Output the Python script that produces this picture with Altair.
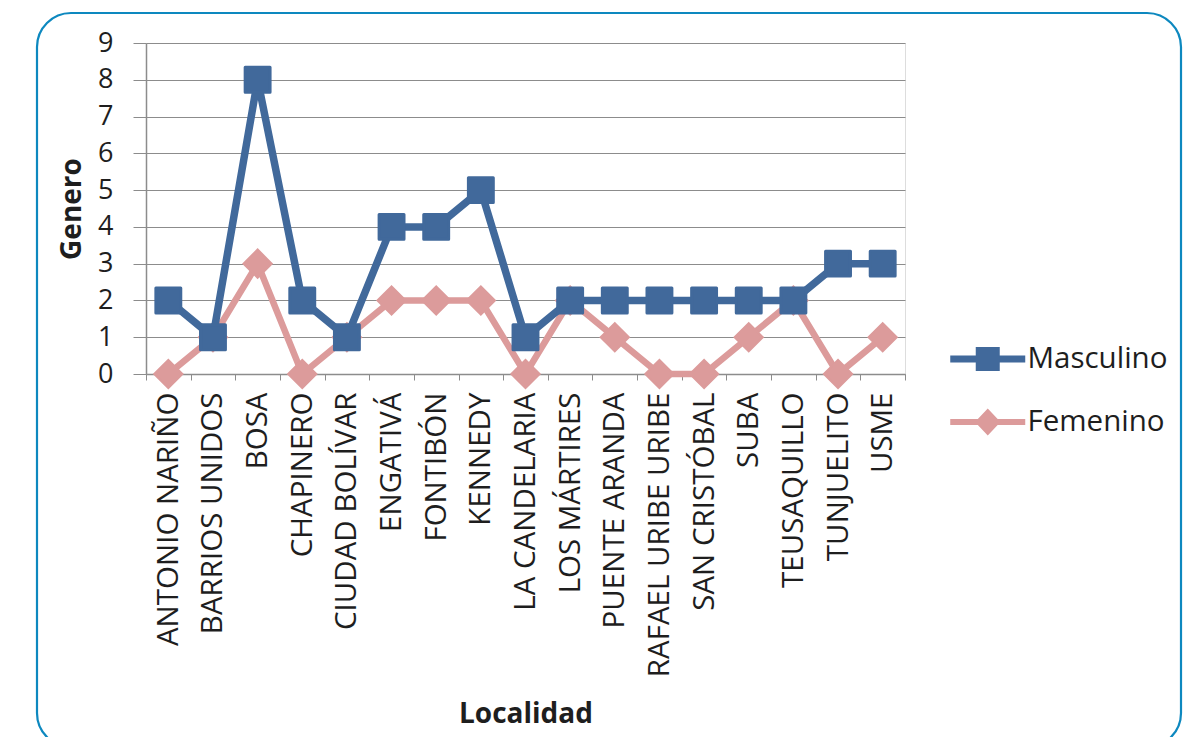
import altair as alt
import pandas as pd

localidades = [
    "ANTONIO NARIÑO", "BARRIOS UNIDOS", "BOSA", "CHAPINERO", "CIUDAD BOLÍVAR",
    "ENGATIVÁ", "FONTIBÓN", "KENNEDY", "LA CANDELARIA", "LOS MÁRTIRES",
    "PUENTE ARANDA", "RAFAEL URIBE URIBE", "SAN CRISTÓBAL", "SUBA",
    "TEUSAQUILLO", "TUNJUELITO", "USME",
]
masculino = [2, 1, 8, 2, 1, 4, 4, 5, 1, 2, 2, 2, 2, 2, 2, 3, 3]
femenino = [0, 1, 3, 0, 1, 2, 2, 2, 0, 2, 1, 0, 0, 1, 2, 0, 1]
series = ["Masculino", "Femenino"]
y_ticks = [0, 1, 2, 3, 4, 5, 6, 7, 8, 9]

BLUE = "#41699B"
PINK = "#DC9B9B"
GRID = "#8C8C8C"
TEXT = "#1E1E1E"
FONT = "Open Sans"

df = pd.DataFrame({"Localidad": localidades, "Masculino": masculino, "Femenino": femenino})

x_enc = alt.X(
    "Localidad:N",
    sort=None,
    title="Localidad",
    scale=alt.Scale(paddingInner=0, paddingOuter=0),
    axis=alt.Axis(
        labelAngle=-90,
        labelFontSize=29.5,
        labelFont=FONT,
        labelColor=TEXT,
        labelPadding=12,
        tickSize=6,
        tickBand="extent",
        tickColor=GRID,
        domainColor=GRID,
        domainWidth=1.5,
        grid=False,
        titleFont=FONT,
        titleFontSize=28,
        titleFontWeight="bold",
        titleColor=TEXT,
        titleBaseline="alphabetic",
        titleY=348,
        labelLimit=0,
    ),
)

def y_enc(field):
    return alt.Y(
        f"{field}:Q",
        title="Genero",
        scale=alt.Scale(domain=[0, 9], nice=False),
        axis=alt.Axis(
            values=y_ticks,
            labelFontSize=27,
            labelFont=FONT,
            labelColor=TEXT,
            labelPadding=20,
            tickSize=13,
            tickColor=GRID,
            domainColor=GRID,
            domainWidth=1.5,
            gridColor=GRID,
            gridWidth=1.2,
            titleFont=FONT,
            titleFontSize=28,
            titleFontWeight="bold",
            titleColor=TEXT,
            titleBaseline="alphabetic",
            titleAlign="center",
            titleX=-66,
            titleY=165.5,
        ),
    )

base = alt.Chart(df)

fem_line = base.mark_line(color=PINK, strokeWidth=6.5).encode(x=x_enc, y=y_enc("Femenino"))
fem_pts = base.mark_point(shape="diamond", filled=True, size=800, color=PINK,
                          stroke=PINK, strokeWidth=2, opacity=1).encode(x=x_enc, y=y_enc("Femenino"))
mas_line = base.mark_line(color=BLUE, strokeWidth=7.5).encode(x=x_enc, y=y_enc("Masculino"))
mas_pts = base.mark_point(shape="square", filled=True, size=620, color=BLUE,
                          stroke=BLUE, strokeWidth=3, strokeJoin="round", opacity=1).encode(x=x_enc, y=y_enc("Masculino"))

# legend-only layer (no data drawn)
legend_df = pd.DataFrame({"Serie": series})
path_mas = "M-1,-0.187 H3 V0.187 H-1 Z M0.36,-0.64 H1.64 V0.64 H0.36 Z"
path_fem = "M-1,-0.16 H3 V0.16 H-1 Z M1,-0.72 L1.68,0 L1,0.72 L0.32,0 Z"
legend_layer = alt.Chart(legend_df).transform_filter("false").mark_point(
    filled=True, size=1406, opacity=1
).encode(
    x=alt.value(0),
    y=alt.value(0),
    color=alt.Color(
        "Serie:N",
        scale=alt.Scale(domain=series, range=[BLUE, PINK]),
        legend=alt.Legend(
            title=None,
            orient="none",
            legendX=804,
            legendY=297,
            labelFont=FONT,
            labelFontSize=29.5,
            labelColor=TEXT,
            labelOffset=39.5,
            rowPadding=29,
            symbolSize=1406,
            symbolStrokeWidth=0,
            symbolOpacity=1,
            padding=0,
        ),
    ),
    shape=alt.Shape(
        "Serie:N",
        scale=alt.Scale(domain=series, range=[path_mas, path_fem]),
    ),
)

frame_df = pd.DataFrame({"k": [0]})
frame = alt.Chart(frame_df).mark_rect(
    fill=None, stroke="#0D88BF", strokeWidth=2.2, cornerRadius=34
).encode(
    x=alt.value(-109), x2=alt.value(1035), y=alt.value(-30), y2=alt.value(704)
)

chart = alt.layer(frame, fem_line, fem_pts, mas_line, mas_pts, legend_layer).properties(
    width=759,
    height=331,
    autosize=alt.AutoSizeParams(type="none"),
    padding={"left": 138, "top": 35, "right": 278, "bottom": 363},
).configure_view(stroke=None).configure(background="white")

chart.save("out.html", embed_options={"renderer": "svg", "actions": False})
